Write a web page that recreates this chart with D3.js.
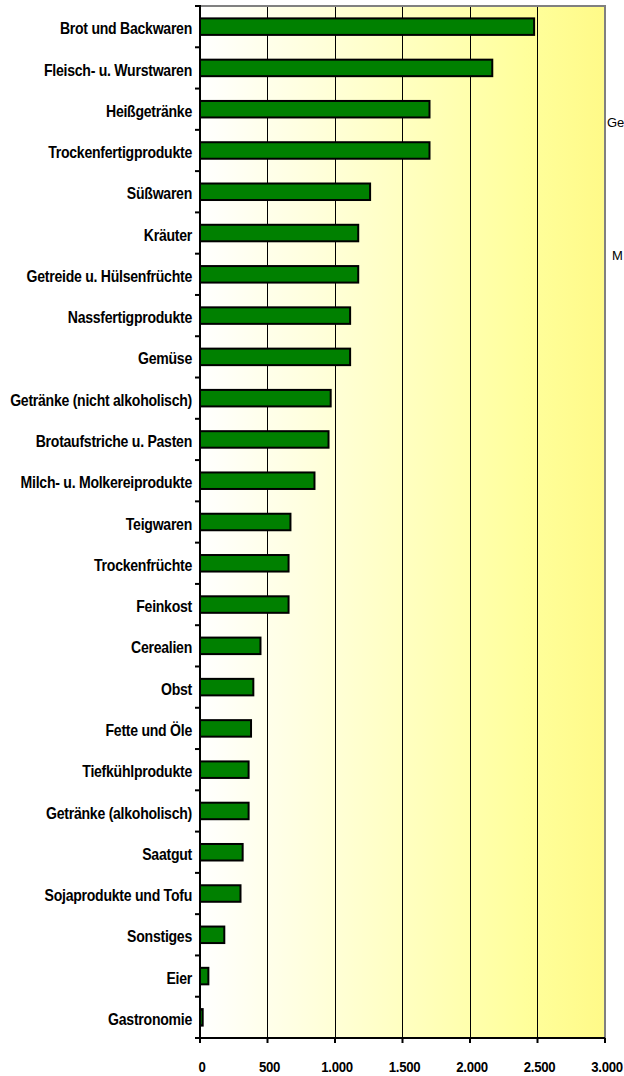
<!DOCTYPE html>
<html>
<head>
<meta charset="utf-8">
<script src="https://cdn.jsdelivr.net/npm/d3@7"></script>
<style>
  body { margin: 0; background: #fff; }
  svg text { font-family: "Liberation Sans", Arial, sans-serif; }
</style>
</head>
<body>
<svg id="chart" width="624" height="1076"></svg>
<script>
// categories top to bottom
const categories = [
  "Brot und Backwaren", "Fleisch- u. Wurstwaren", "Heißgetränke", "Trockenfertigprodukte",
  "Süßwaren", "Kräuter", "Getreide u. Hülsenfrüchte", "Nassfertigprodukte", "Gemüse",
  "Getränke (nicht alkoholisch)", "Brotaufstriche u. Pasten", "Milch- u. Molkereiprodukte",
  "Teigwaren", "Trockenfrüchte", "Feinkost", "Cerealien", "Obst", "Fette und Öle",
  "Tiefkühlprodukte", "Getränke (alkoholisch)", "Saatgut", "Sojaprodukte und Tofu",
  "Sonstiges", "Eier", "Gastronomie"
];
const values = [
  2475, 2165, 1700, 1700, 1260, 1172, 1172, 1112, 1112, 968, 952, 848,
  670, 656, 656, 448, 395, 378, 360, 360, 316, 300, 180, 62, 20
];
const xTicks = [0, 500, 1000, 1500, 2000, 2500, 3000];
const fmt = d => d3.format(",")(d).replace(/,/g, ".");

const svg = d3.select("#chart");
const mLeft = 200, mRight = 605, mTop = 6, mBottom = 1038;
const squeeze = 0.88; // fake a narrow font

const x = d3.scaleLinear().domain([0, 3000]).range([mLeft, mRight]);
const y = d3.scaleBand().domain(categories).range([mTop, mBottom]).paddingInner(0.6).paddingOuter(0.3);

// background gradient
const grad = svg.append("defs").append("linearGradient").attr("id", "bg")
  .attr("x1", "0%").attr("x2", "100%").attr("y1", "0%").attr("y2", "0%");
grad.append("stop").attr("offset", "0%").attr("stop-color", "#ffffff");
grad.append("stop").attr("offset", "80%").attr("stop-color", "#ffff9c");
grad.append("stop").attr("offset", "100%").attr("stop-color", "#fffa88");

svg.append("rect").attr("x", mLeft).attr("y", mTop).attr("width", mRight - mLeft).attr("height", mBottom - mTop)
  .attr("fill", "url(#bg)");

// grid lines
svg.append("g").selectAll("line").data(xTicks.slice(1, -1)).join("line")
  .attr("x1", d => x(d)).attr("x2", d => x(d)).attr("y1", mTop).attr("y2", mBottom)
  .attr("stroke", "#000").attr("stroke-width", 1).attr("shape-rendering", "crispEdges");

// gray frame top and right
svg.append("path")
  .attr("d", `M${mLeft},${mTop}H${mRight}V${mBottom}`)
  .attr("fill", "none").attr("stroke", "#808080").attr("stroke-width", 2);

// bars
svg.append("g").selectAll("rect").data(categories).join("rect")
  .attr("x", x(0))
  .attr("y", d => y(d))
  .attr("width", (d, i) => x(values[i]) - x(0))
  .attr("height", y.bandwidth())
  .attr("fill", "#008000").attr("stroke", "#000").attr("stroke-width", 2);

// y axis
const yAxis = svg.append("g");
yAxis.append("line").attr("x1", mLeft).attr("x2", mLeft).attr("y1", mTop - 1).attr("y2", mBottom + 5)
  .attr("stroke", "#000").attr("stroke-width", 2);
const bounds = d3.range(categories.length + 1).map(i => mTop + i * (mBottom - mTop) / categories.length);
yAxis.selectAll("line.t").data(bounds).join("line").attr("class", "t")
  .attr("x1", mLeft - 5).attr("x2", mLeft).attr("y1", d => d).attr("y2", d => d)
  .attr("stroke", "#000").attr("stroke-width", 2);
yAxis.selectAll("text").data(categories).join("text")
  .attr("transform", d => `translate(192,${y(d) + y.bandwidth() / 2 + 2}) scale(${squeeze},1)`)
  .attr("dy", "0.35em").attr("text-anchor", "end")
  .attr("font-size", 16).attr("font-weight", "bold").attr("fill", "#000")
  .attr("letter-spacing", -0.3)
  .text(d => d);

// x axis
const xAxis = svg.append("g");
xAxis.append("line").attr("x1", mLeft).attr("x2", mRight).attr("y1", mBottom).attr("y2", mBottom)
  .attr("stroke", "#000").attr("stroke-width", 2);
xAxis.selectAll("line.t").data(xTicks).join("line").attr("class", "t")
  .attr("x1", d => x(d)).attr("x2", d => x(d)).attr("y1", mBottom).attr("y2", mBottom + 5)
  .attr("stroke", "#000").attr("stroke-width", 2);
xAxis.selectAll("text").data(xTicks).join("text")
  .attr("transform", d => `translate(${x(d) + 2},1072) scale(${squeeze},1)`)
  .attr("text-anchor", "middle")
  .attr("font-size", 15).attr("font-weight", "bold").attr("fill", "#000")
  .attr("letter-spacing", -0.3)
  .text(fmt);

// side texts at the right edge (cut in the source as well)
svg.append("text").attr("x", 607).attr("y", 127).attr("font-size", 13).text("Ge");
svg.append("text").attr("x", 612).attr("y", 260).attr("font-size", 13).text("M");
</script>
</body>
</html>
